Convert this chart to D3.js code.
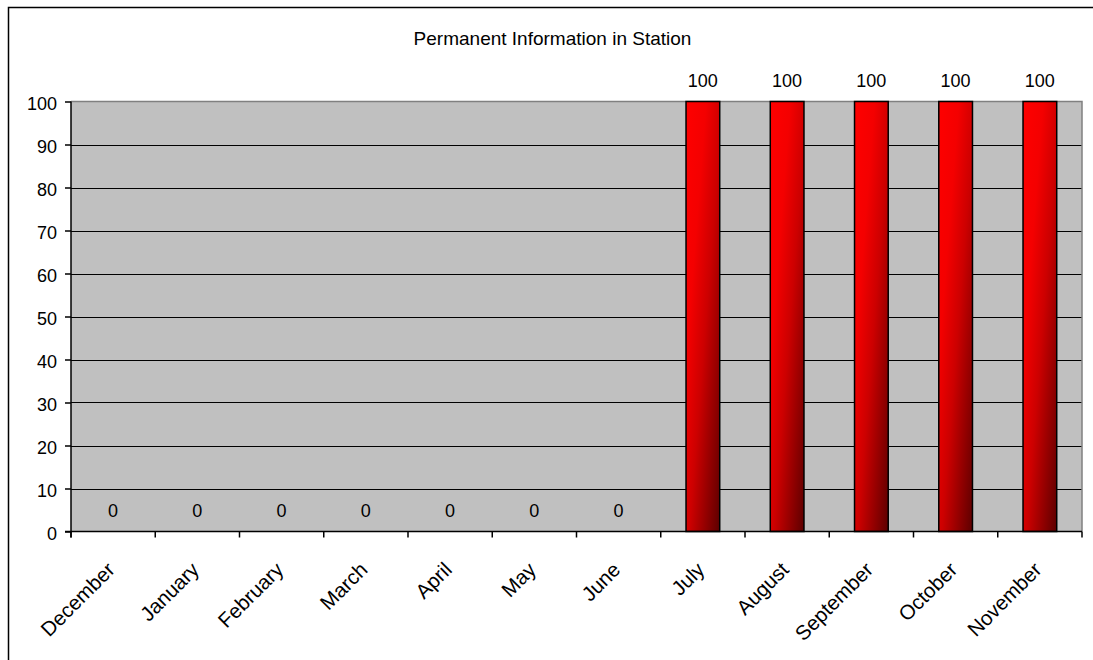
<!DOCTYPE html>
<html>
<head>
<meta charset="utf-8">
<script src="https://cdn.jsdelivr.net/npm/d3@7"></script>
<style>
  html, body { margin: 0; padding: 0; background: #fff; overflow: hidden; }
  svg { display: block; }
  text { font-family: "Liberation Sans", Arial, sans-serif; fill: #000; }
</style>
</head>
<body>
<svg id="chart" width="1093" height="660"></svg>
<script>
const title = "Permanent Information in Station";
const categories = ["December", "January", "February", "March", "April", "May", "June",
                    "July", "August", "September", "October", "November"];
const values = [0, 0, 0, 0, 0, 0, 0, 100, 100, 100, 100, 100];
const yTicks = [0, 10, 20, 30, 40, 50, 60, 70, 80, 90, 100];

const svg = d3.select("#chart");
const plot = { left: 71, right: 1082, top: 101.5, bottom: 531.5 };

// outer frame (left and top edges visible only)
svg.append("path")
  .attr("d", "M8.5,660 V7.5 H1093")
  .attr("fill", "none").attr("stroke", "#000").attr("stroke-width", 1.5);

// gradient
const defs = svg.append("defs");
const grad = defs.append("linearGradient").attr("id", "barGrad")
  .attr("x1", 0).attr("y1", 0).attr("x2", 1).attr("y2", 1);
grad.append("stop").attr("offset", "0").attr("stop-color", "#ff0000");
grad.append("stop").attr("offset", "0.3").attr("stop-color", "#f40000");
grad.append("stop").attr("offset", "0.55").attr("stop-color", "#cc0000");
grad.append("stop").attr("offset", "1").attr("stop-color", "#5c0000");

const x = d3.scaleBand().domain(categories)
  .range([plot.left, plot.right]).paddingInner(0.6).paddingOuter(0.3);
const y = d3.scaleLinear().domain([0, 100]).range([plot.bottom, plot.top]);
const step = x.step();

// plot background
svg.append("rect")
  .attr("x", plot.left).attr("y", plot.top)
  .attr("width", plot.right - plot.left).attr("height", plot.bottom - plot.top)
  .attr("fill", "#c0c0c0");

// gridlines
svg.append("g").selectAll("line")
  .data(yTicks.filter(t => t > 0 && t < 100))
  .join("line")
  .attr("x1", plot.left).attr("x2", plot.right)
  .attr("y1", d => Math.round(y(d)) + 0.5).attr("y2", d => Math.round(y(d)) + 0.5)
  .attr("stroke", "#000").attr("stroke-width", 1.2);

// plot border top/right (gray)
svg.append("path")
  .attr("d", `M${plot.left},${plot.top} H${plot.right} V${plot.bottom}`)
  .attr("fill", "none").attr("stroke", "#808080").attr("stroke-width", 1.5);

// bars
svg.append("g").selectAll("rect")
  .data(categories.map((c, i) => ({ c, v: values[i] })).filter(d => d.v > 0))
  .join("rect")
  .attr("x", d => x(d.c)).attr("y", d => y(d.v))
  .attr("width", x.bandwidth()).attr("height", d => y(0) - y(d.v))
  .attr("fill", "url(#barGrad)").attr("stroke", "#000").attr("stroke-width", 1.5);

// y axis
const yAxis = svg.append("g").attr("transform", `translate(${plot.left},0)`)
  .call(d3.axisLeft(y).tickValues(yTicks).tickSize(6).tickPadding(8));
yAxis.select(".domain").attr("stroke", "#000").attr("stroke-width", 1.5)
  .attr("d", `M0,${plot.top}V${plot.bottom + 6}`);
yAxis.selectAll(".tick line").attr("stroke", "#000").attr("stroke-width", 1.5);
yAxis.selectAll(".tick text")
  .attr("font-size", 18).attr("font-family", "Liberation Sans, Arial, sans-serif")
  .attr("fill", "#000").attr("dy", "0.42em").attr("x", -14);

// x axis line
svg.append("line")
  .attr("x1", plot.left - 6).attr("x2", plot.right)
  .attr("y1", plot.bottom).attr("y2", plot.bottom)
  .attr("stroke", "#000").attr("stroke-width", 1.5);

// x ticks at category boundaries
svg.append("g").selectAll("line")
  .data(d3.range(categories.length + 1))
  .join("line")
  .attr("x1", i => plot.left + i * step).attr("x2", i => plot.left + i * step)
  .attr("y1", plot.bottom).attr("y2", plot.bottom + 6)
  .attr("stroke", "#000").attr("stroke-width", 1.5);

// x labels
svg.append("g").selectAll("text")
  .data(categories)
  .join("text")
  .attr("transform", d => `translate(${x(d) + x.bandwidth() / 2 + 3},571) rotate(-45)`)
  .attr("text-anchor", "end")
  .attr("font-size", 20.5)
  .text(d => d);

// data labels
svg.append("g").selectAll("text")
  .data(categories.map((c, i) => ({ c, v: values[i] })))
  .join("text")
  .attr("x", d => x(d.c) + x.bandwidth() / 2)
  .attr("y", d => y(d.v) - 15)
  .attr("text-anchor", "middle")
  .attr("font-size", 18)
  .text(d => d.v);

// title
svg.append("text")
  .attr("x", 552.5).attr("y", 45)
  .attr("text-anchor", "middle")
  .attr("font-size", 19)
  .text(title);
</script>
</body>
</html>
